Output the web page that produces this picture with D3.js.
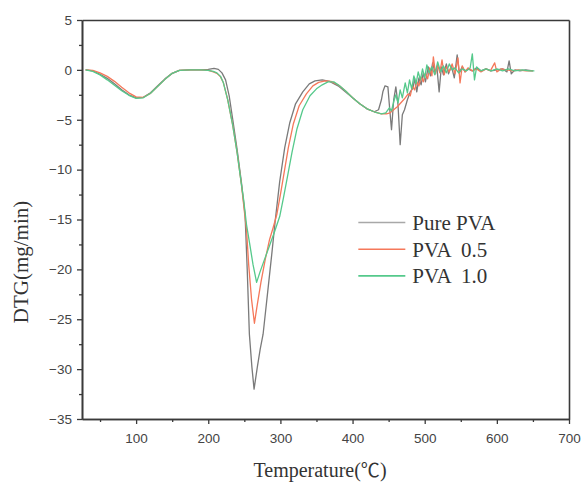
<!DOCTYPE html>
<html>
<head>
<meta charset="utf-8">
<script src="https://cdn.jsdelivr.net/npm/d3@7"></script>
<style>
  body { margin: 0; background: #fff; }
  svg text { white-space: pre; }
</style>
</head>
<body>
<div id="chart"></div>
<script>
// Data: [temperature (°C), DTG (mg/min)]
const purePVA = [
  [30,0],[40,-0.1],[50,-0.45],[60,-0.85],[70,-1.4],[80,-2.0],[90,-2.5],[100,-2.8],[110,-2.75],
  [120,-2.3],[130,-1.6],[140,-0.9],[150,-0.35],[160,-0.05],[175,0],[190,0],[200,0.05],[208,0.15],
  [214,0.05],[219,-0.3],[224,-1.0],[229,-2.6],[234,-5.0],[240,-8.0],[246,-11.3],[251,-14.5],
  [254,-20],[257,-26.5],[260.5,-29.8],[263.5,-32],[268,-29.8],[272,-28],[276,-26.5],[282,-22.5],
  [288,-18.5],[293,-15],[299,-11.2],[306,-7.8],[313,-5.3],[321,-3.4],[331,-2.2],[340,-1.4],
  [348,-1.1],[358,-1.0],[368,-1.15],[380,-1.6],[390,-2.2],[400,-2.8],[410,-3.4],[420,-3.9],
  [430,-4.2],[436,-4.0],[440,-3.0],[442,-2.2],[445,-1.6],[449,-1.7],[451,-3.5],[454,-6.0],
  [457,-3.0],[460,-1.7],[463,-3.5],[466,-7.5],[469,-4.5],[472,-4.0],[476,-3.0],[480,-2.2],
  [484,-1.8],[486,-0.8],[489,-2.2],[492,-0.8],[495,-1.5],[498,-0.3],[501,-1.2],[505,0.3],
  [508,-0.6],[511,0.7],[514,-0.2],[517,0.2],[520,-2.2],[523,0.3],[526,-0.5],[530,0.6],
  [533,-0.4],[537,0.4],[541,-0.8],[545,1.5],[548,-0.3],[552,0.3],[556,-0.2],[560,0.1],
  [566,-0.1],[572,0.2],[578,-0.1],[585,0.1],[592,-0.1],[600,0],[608,0.1],[614,-0.2],
  [617,0.9],[620,-0.4],[625,0],[632,-0.1],[640,0],[650,-0.1]
];

const pva05 = [
  [30,0],[40,-0.05],[50,-0.3],[60,-0.65],[70,-1.15],[80,-1.75],[90,-2.3],[100,-2.7],[110,-2.75],
  [120,-2.35],[130,-1.65],[140,-0.95],[150,-0.35],[160,-0.05],[175,0],[190,0],[200,-0.05],
  [207,-0.2],[212,-0.35],[217,-0.7],[221,-1.3],[227,-3.0],[234,-5.6],[240,-8.3],[246,-11.5],
  [251,-14.8],[253,-16],[256,-19.5],[260,-23],[264,-25.4],[268,-23.5],[273,-21.3],[279,-19],
  [285,-17],[290,-15.8],[295,-14.5],[300,-12.5],[304,-10.8],[311,-7.8],[318,-5.4],[326,-3.6],
  [336,-2.4],[345,-1.6],[353,-1.25],[362,-1.1],[370,-1.15],[380,-1.5],[390,-2.1],[400,-2.8],
  [410,-3.4],[420,-3.9],[430,-4.2],[440,-4.4],[447,-4.4],[452,-4.3],[457,-4.0],[462,-3.7],
  [467,-3.3],[472,-2.9],[477,-2.4],[480,-2.6],[483,-1.6],[486,-2.0],[489,-1.2],[492,-1.6],
  [495,-0.7],[498,-1.2],[501,-0.3],[504,-0.9],[507,0.2],[510,-0.6],[512,1.3],[515,-0.4],
  [518,0.5],[521,-0.3],[524,1.0],[527,-0.5],[530,0.3],[534,-0.2],[538,0.6],[542,-0.4],
  [546,1.2],[549,-1.3],[552,0.4],[556,-0.2],[560,0.2],[566,-0.1],[572,0.1],[578,-0.2],
  [585,0.1],[591,-0.1],[597,0.7],[600,-0.2],[606,0.1],[614,0],[622,-0.1],[630,0],
  [640,-0.1],[650,-0.1]
];

const pva10 = [
  [30,0],[40,-0.15],[50,-0.5],[60,-1.0],[70,-1.55],[80,-2.1],[90,-2.55],[100,-2.85],[110,-2.8],
  [120,-2.35],[130,-1.65],[140,-0.95],[150,-0.35],[160,-0.05],[175,0],[190,0],[200,-0.05],
  [207,-0.15],[212,-0.3],[217,-0.65],[221,-1.3],[227,-3.0],[234,-5.6],[240,-8.3],[246,-11.5],
  [249,-13],[253,-15.5],[258,-17.7],[262,-19.5],[267,-21.3],[272,-20.2],[278,-19],[285,-17.6],
  [292,-16.2],[299,-14.7],[304,-12.9],[309,-11],[316,-8.3],[323,-5.9],[331,-4.0],[341,-2.6],
  [350,-1.9],[358,-1.5],[366,-1.2],[374,-1.2],[382,-1.6],[390,-2.1],[400,-2.8],[410,-3.4],
  [420,-3.9],[430,-4.2],[440,-4.4],[446,-4.3],[451,-3.8],[454,-4.1],[457,-3.2],[460,-2.5],
  [463,-3.3],[466,-2.0],[469,-2.8],[473,-1.3],[476,-2.3],[479,-1.0],[482,-1.9],[485,-0.6],
  [488,-1.4],[491,-0.2],[494,-1.0],[497,0.1],[500,-0.8],[503,0.5],[506,-0.3],[510,0.3],
  [514,-0.5],[518,0.8],[522,-0.2],[526,0.4],[530,-0.3],[534,0.6],[538,0],[542,0.2],
  [547,-0.3],[552,0.1],[558,-0.1],[563,0.2],[566,1.6],[569,-1.0],[572,0.3],[578,-0.1],
  [585,0.1],[592,-0.1],[600,0.1],[608,-0.1],[616,0.1],[625,-0.1],[635,0],[645,-0.1],[652,-0.1]
];

const seriesNames = ["Pure PVA", "PVA  0.5", "PVA  1.0"];
const seriesData = [purePVA, pva05, pva10];
const seriesColors = ["#7a7a7a", "#f5785a", "#55c98b"];
const legendColors = ["#a8a8a8", "#f5785a", "#55c98b"];

const xTicks = [100, 200, 300, 400, 500, 600, 700];
const xMinorTicks = [50, 150, 250, 350, 450, 550, 650];
const yTicks = [5, 0, -5, -10, -15, -20, -25, -30, -35];
const yMinorTicks = [2.5, -2.5, -7.5, -12.5, -17.5, -22.5, -27.5, -32.5];

const width = 584, height = 482;
const margin = { top: 20, right: 15, bottom: 63, left: 82 };
const plotW = width - margin.left - margin.right;
const plotH = height - margin.top - margin.bottom;

const svg = d3.select("#chart")
  .append("svg")
  .attr("width", width)
  .attr("height", height);

const g = svg.append("g")
  .attr("transform", `translate(${margin.left},${margin.top})`);

const x = d3.scaleLinear().domain([25, 700]).range([0, plotW]);
const y = d3.scaleLinear().domain([-35, 5]).range([plotH, 0]);

const axisColor = "#3a3a3a";
const tickFont = "'Liberation Sans', Arial, sans-serif";
const serifFont = "'Liberation Serif', 'Times New Roman', serif";

// Curves
const line = d3.line()
  .x(d => x(d[0]))
  .y(d => y(d[1]));

seriesData.forEach((data, i) => {
  g.append("path")
    .datum(data)
    .attr("fill", "none")
    .attr("stroke", seriesColors[i])
    .attr("stroke-width", 1.3)
    .attr("stroke-linejoin", "round")
    .attr("d", line);
});

// Axes
const styleAxis = (sel) => {
  sel.selectAll("path").attr("stroke", axisColor).attr("stroke-width", 1.6);
  sel.selectAll("line").attr("stroke", axisColor).attr("stroke-width", 1.3);
  sel.selectAll("text")
    .attr("fill", "#444")
    .style("font-family", tickFont)
    .style("font-size", "13.5px");
};

g.append("g")
  .attr("transform", `translate(0,${plotH})`)
  .call(d3.axisBottom(x).tickValues(xTicks).tickSize(5).tickSizeOuter(0).tickPadding(9))
  .call(styleAxis);

g.append("g")
  .attr("transform", `translate(0,${plotH})`)
  .call(d3.axisBottom(x).tickValues(xMinorTicks).tickSize(3).tickSizeOuter(0).tickFormat(""))
  .call(styleAxis);

g.append("g")
  .call(d3.axisLeft(y).tickValues(yTicks).tickSize(5).tickSizeOuter(0).tickPadding(5))
  .call(styleAxis);

g.append("g")
  .call(d3.axisLeft(y).tickValues(yMinorTicks).tickSize(3).tickSizeOuter(0).tickFormat(""))
  .call(styleAxis);

g.append("g")
  .call(d3.axisTop(x).tickValues([]).tickSizeOuter(0))
  .call(styleAxis);

g.append("g")
  .attr("transform", `translate(${plotW},0)`)
  .call(d3.axisRight(y).tickValues([]).tickSizeOuter(0))
  .call(styleAxis);

// Axis titles
const xTitle = svg.append("text")
  .attr("x", 320)
  .attr("y", 477)
  .attr("text-anchor", "middle")
  .attr("fill", "#333")
  .style("font-family", serifFont)
  .style("font-size", "20px");
xTitle.append("tspan").text("Temperature(");
xTitle.append("tspan").style("font-family", "'Noto Sans CJK SC'").style("font-size", "19px").text("℃");
xTitle.append("tspan").text(")");

svg.append("text")
  .attr("transform", "translate(28,262) rotate(-90)")
  .attr("text-anchor", "middle")
  .attr("fill", "#333")
  .style("font-family", serifFont)
  .style("font-size", "21px")
  .text("DTG(mg/min)");

// Legend
const legend = g.append("g")
  .attr("transform", `translate(${x(408)},${y(-15.3)})`);

seriesNames.forEach((name, i) => {
  const row = legend.append("g").attr("transform", `translate(0,${i * 26.7})`);
  row.append("line")
    .attr("x1", 0).attr("x2", 47)
    .attr("stroke", legendColors[i])
    .attr("stroke-width", 1.6);
  row.append("text")
    .attr("x", 54)
    .attr("dy", "0.35em")
    .attr("fill", "#333")
    .style("font-family", serifFont)
    .style("font-size", "21px")
    .text(name);
});
</script>
</body>
</html>
